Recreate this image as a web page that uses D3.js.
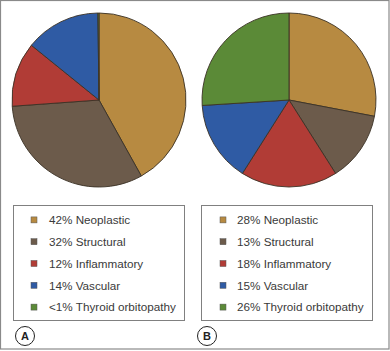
<!DOCTYPE html>
<html>
<head>
<meta charset="utf-8">
<script src="https://cdn.jsdelivr.net/npm/d3@7"></script>
<style>
  body { margin: 0; background: #fff; }
  svg { display: block; }
</style>
</head>
<body>
<div id="chart"></div>
<script>
// categorias y valores de cada panel
const categorias = ["Neoplastic", "Structural", "Inflammatory", "Vascular", "Thyroid orbitopathy"];
const valoresA = [42, 32, 12, 14, 0.2];
const etiquetasA = ["42%", "32%", "12%", "14%", "<1%"];
const valoresB = [28, 13, 18, 15, 26];
const etiquetasB = ["28%", "13%", "18%", "15%", "26%"];
const paneles = ["A", "B"];
const colores = ["#b78a41", "#6c5b4b", "#b13c36", "#2f5ba4", "#5b8a37"];

const W = 390, H = 351;

const svg = d3.select("#chart")
    .append("svg")
    .attr("width", W)
    .attr("height", H);

// marco exterior
svg.append("rect")
    .attr("x", 0.5).attr("y", 0.5)
    .attr("width", W - 1.5).attr("height", H - 2.5)
    .attr("fill", "none")
    .attr("stroke", "#8a8a8a")
    .attr("stroke-width", 1.2);

const color = d3.scaleOrdinal().domain(categorias).range(colores);

const x = d3.scaleBand().domain(paneles).range([0, W]);

const pie = d3.pie().sort(null).value(d => d.valor);
const arc = d3.arc().innerRadius(0).outerRadius(87);

function crearPanel(panel, valores, etiquetas) {
    const x0 = x(panel);
    const g = svg.append("g");
    const datos = categorias.map((c, i) => ({ cat: c, valor: valores[i], etiqueta: etiquetas[i] }));

    // Pastel
    const cx = panel === "A" ? x0 + 99 : x0 + 94;
    g.append("g")
        .attr("transform", `translate(${cx}, 100)`)
        .selectAll("path")
        .data(pie(datos))
        .enter()
        .append("path")
        .attr("d", arc)
        .attr("fill", d => color(d.data.cat))
        .attr("stroke", "#3b3226")
        .attr("stroke-width", 0.9);

    // Leyenda
    const lx = panel === "A" ? x0 + 13 : x0 + 6;
    g.append("rect")
        .attr("x", lx + 0.5).attr("y", 205.5)
        .attr("width", 171).attr("height", 115)
        .attr("fill", "none")
        .attr("stroke", "#808080")
        .attr("stroke-width", 1);

    const filas = d3.scaleBand()
        .domain(categorias)
        .range([209, 318]);

    const item = g.selectAll("g.item")
        .data(datos)
        .enter()
        .append("g")
        .attr("transform", d => `translate(${lx}, ${filas(d.cat) + filas.bandwidth() / 2})`);

    item.append("rect")
        .attr("x", panel === "A" ? 18 : 19).attr("y", -3)
        .attr("width", 6).attr("height", 6)
        .attr("fill", d => color(d.cat))
        .attr("stroke", "#555")
        .attr("stroke-width", 0.5);

    item.append("text")
        .attr("x", panel === "A" ? 36 : 36)
        .attr("y", 4.2)
        .text(d => `${d.etiqueta} ${d.cat}`)
        .style("font-family", "'Liberation Sans', Arial, sans-serif")
        .style("font-size", "11.7px")
        .style("fill", "#3a3a3a");

    // Etiqueta de panel
    const ex = panel === "A" ? x0 + 25 : x0 + 12;
    g.append("circle")
        .attr("cx", ex).attr("cy", 336)
        .attr("r", 9.5)
        .attr("fill", "#fff")
        .attr("stroke", "#222")
        .attr("stroke-width", 1);
    g.append("text")
        .attr("x", ex).attr("y", 340)
        .attr("text-anchor", "middle")
        .text(panel)
        .style("font-family", "'Liberation Sans', Arial, sans-serif")
        .style("font-weight", "bold")
        .style("font-size", "11px")
        .style("fill", "#222");
}

crearPanel("A", valoresA, etiquetasA);
crearPanel("B", valoresB, etiquetasB);
</script>
</body>
</html>
